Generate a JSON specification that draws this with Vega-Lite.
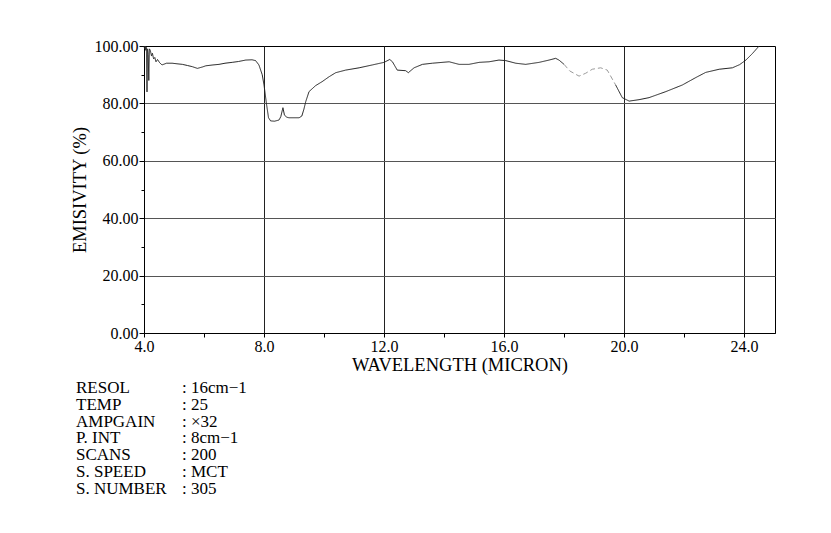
{
  "$schema": "https://vega.github.io/schema/vega-lite/v6.json",
  "padding": {"left": 69, "top": 37, "right": 0, "bottom": 0},
  "background": "white",
  "config": {"font": "Liberation Serif", "view": {"stroke": null}},
  "spacing": 5,
  "vconcat": [
    {
      "width": 631,
      "height": 287,
      "view": {"stroke": "black", "strokeWidth": 1},
      "data": {"values": [
        {"wavelength": 4.00, "emissivity": 100, "part": "a"},
        {"wavelength": 4.02, "emissivity": 99, "part": "a"},
        {"wavelength": 4.04, "emissivity": 100, "part": "a"},
        {"wavelength": 4.06, "emissivity": 98.5, "part": "a"},
        {"wavelength": 4.08, "emissivity": 99.5, "part": "a"},
        {"wavelength": 4.10, "emissivity": 84, "part": "a"},
        {"wavelength": 4.12, "emissivity": 99, "part": "a"},
        {"wavelength": 4.14, "emissivity": 97, "part": "a"},
        {"wavelength": 4.16, "emissivity": 88, "part": "a"},
        {"wavelength": 4.18, "emissivity": 99, "part": "a"},
        {"wavelength": 4.21, "emissivity": 98.5, "part": "a"},
        {"wavelength": 4.25, "emissivity": 96.5, "part": "a"},
        {"wavelength": 4.28, "emissivity": 97.5, "part": "a"},
        {"wavelength": 4.32, "emissivity": 95.5, "part": "a"},
        {"wavelength": 4.36, "emissivity": 96, "part": "a"},
        {"wavelength": 4.40, "emissivity": 94.5, "part": "a"},
        {"wavelength": 4.45, "emissivity": 95.3, "part": "a"},
        {"wavelength": 4.52, "emissivity": 94.2, "part": "a"},
        {"wavelength": 4.60, "emissivity": 93.4, "part": "a"},
        {"wavelength": 4.75, "emissivity": 94, "part": "a"},
        {"wavelength": 4.94, "emissivity": 94, "part": "a"},
        {"wavelength": 5.10, "emissivity": 93.8, "part": "a"},
        {"wavelength": 5.28, "emissivity": 93.6, "part": "a"},
        {"wavelength": 5.45, "emissivity": 93.2, "part": "a"},
        {"wavelength": 5.61, "emissivity": 92.8, "part": "a"},
        {"wavelength": 5.78, "emissivity": 92.2, "part": "a"},
        {"wavelength": 5.95, "emissivity": 92.7, "part": "a"},
        {"wavelength": 6.06, "emissivity": 93.1, "part": "a"},
        {"wavelength": 6.30, "emissivity": 93.4, "part": "a"},
        {"wavelength": 6.50, "emissivity": 93.6, "part": "a"},
        {"wavelength": 6.70, "emissivity": 94, "part": "a"},
        {"wavelength": 6.94, "emissivity": 94.3, "part": "a"},
        {"wavelength": 7.15, "emissivity": 94.6, "part": "a"},
        {"wavelength": 7.39, "emissivity": 95.1, "part": "a"},
        {"wavelength": 7.60, "emissivity": 95.2, "part": "a"},
        {"wavelength": 7.72, "emissivity": 94.9, "part": "a"},
        {"wavelength": 7.83, "emissivity": 93.4, "part": "a"},
        {"wavelength": 7.94, "emissivity": 90, "part": "a"},
        {"wavelength": 8.00, "emissivity": 86.4, "part": "a"},
        {"wavelength": 8.08, "emissivity": 80, "part": "a"},
        {"wavelength": 8.15, "emissivity": 75, "part": "a"},
        {"wavelength": 8.22, "emissivity": 73.9, "part": "a"},
        {"wavelength": 8.35, "emissivity": 73.8, "part": "a"},
        {"wavelength": 8.50, "emissivity": 74.2, "part": "a"},
        {"wavelength": 8.56, "emissivity": 75.4, "part": "a"},
        {"wavelength": 8.63, "emissivity": 78.5, "part": "a"},
        {"wavelength": 8.68, "emissivity": 76, "part": "a"},
        {"wavelength": 8.75, "emissivity": 75.2, "part": "a"},
        {"wavelength": 8.83, "emissivity": 75, "part": "a"},
        {"wavelength": 9.17, "emissivity": 75, "part": "a"},
        {"wavelength": 9.26, "emissivity": 75.6, "part": "a"},
        {"wavelength": 9.33, "emissivity": 78, "part": "a"},
        {"wavelength": 9.39, "emissivity": 80.6, "part": "a"},
        {"wavelength": 9.50, "emissivity": 84.1, "part": "a"},
        {"wavelength": 9.72, "emissivity": 86.2, "part": "a"},
        {"wavelength": 9.94, "emissivity": 87.6, "part": "a"},
        {"wavelength": 10.17, "emissivity": 89.3, "part": "a"},
        {"wavelength": 10.39, "emissivity": 90.7, "part": "a"},
        {"wavelength": 10.72, "emissivity": 91.6, "part": "a"},
        {"wavelength": 11.17, "emissivity": 92.4, "part": "a"},
        {"wavelength": 11.61, "emissivity": 93.4, "part": "a"},
        {"wavelength": 12.00, "emissivity": 94.3, "part": "a"},
        {"wavelength": 12.19, "emissivity": 95.3, "part": "a"},
        {"wavelength": 12.28, "emissivity": 94.5, "part": "a"},
        {"wavelength": 12.44, "emissivity": 91.6, "part": "a"},
        {"wavelength": 12.72, "emissivity": 91.4, "part": "a"},
        {"wavelength": 12.81, "emissivity": 90.7, "part": "a"},
        {"wavelength": 13.00, "emissivity": 92.4, "part": "a"},
        {"wavelength": 13.28, "emissivity": 93.6, "part": "a"},
        {"wavelength": 13.61, "emissivity": 94, "part": "a"},
        {"wavelength": 14.17, "emissivity": 94.5, "part": "a"},
        {"wavelength": 14.50, "emissivity": 93.6, "part": "a"},
        {"wavelength": 14.83, "emissivity": 93.6, "part": "a"},
        {"wavelength": 15.17, "emissivity": 94.3, "part": "a"},
        {"wavelength": 15.50, "emissivity": 94.5, "part": "a"},
        {"wavelength": 15.83, "emissivity": 95.1, "part": "a"},
        {"wavelength": 16.06, "emissivity": 94.9, "part": "a"},
        {"wavelength": 16.39, "emissivity": 94, "part": "a"},
        {"wavelength": 16.72, "emissivity": 93.6, "part": "a"},
        {"wavelength": 17.17, "emissivity": 94.3, "part": "a"},
        {"wavelength": 17.50, "emissivity": 95.1, "part": "a"},
        {"wavelength": 17.72, "emissivity": 95.7, "part": "a"},
        {"wavelength": 17.83, "emissivity": 95.1, "part": "a"},
        {"wavelength": 18.00, "emissivity": 93.6, "part": "a"},
        {"wavelength": 18.00, "emissivity": 93.6, "part": "b"},
        {"wavelength": 18.19, "emissivity": 91.3, "part": "b"},
        {"wavelength": 18.50, "emissivity": 89.5, "part": "b"},
        {"wavelength": 18.72, "emissivity": 90.5, "part": "b"},
        {"wavelength": 18.94, "emissivity": 91.9, "part": "b"},
        {"wavelength": 19.22, "emissivity": 92.4, "part": "b"},
        {"wavelength": 19.44, "emissivity": 91.6, "part": "b"},
        {"wavelength": 19.72, "emissivity": 86.4, "part": "b"},
        {"wavelength": 19.72, "emissivity": 86.4, "part": "c"},
        {"wavelength": 19.94, "emissivity": 82, "part": "c"},
        {"wavelength": 20.17, "emissivity": 80.8, "part": "c"},
        {"wavelength": 20.50, "emissivity": 81.3, "part": "c"},
        {"wavelength": 20.83, "emissivity": 82, "part": "c"},
        {"wavelength": 21.39, "emissivity": 84.1, "part": "c"},
        {"wavelength": 21.94, "emissivity": 86.4, "part": "c"},
        {"wavelength": 22.39, "emissivity": 89, "part": "c"},
        {"wavelength": 22.72, "emissivity": 90.8, "part": "c"},
        {"wavelength": 23.17, "emissivity": 91.9, "part": "c"},
        {"wavelength": 23.61, "emissivity": 92.4, "part": "c"},
        {"wavelength": 23.85, "emissivity": 93.5, "part": "c"},
        {"wavelength": 24.06, "emissivity": 95.1, "part": "c"},
        {"wavelength": 24.28, "emissivity": 97.4, "part": "c"},
        {"wavelength": 24.50, "emissivity": 100, "part": "c"}
      ]},
      "mark": {"type": "line", "strokeWidth": 1},
      "encoding": {
        "x": {
          "field": "wavelength", "type": "quantitative",
          "scale": {"domain": [4, 25.03], "nice": false, "zero": false},
          "axis": {
            "values": [4, 6, 8, 10, 12, 14, 16, 18, 20, 22, 24],
            "format": ".1f",
            "labelExpr": "datum.value % 4 === 0 ? datum.label : ''",
            "grid": true,
            "gridColor": "#222",
            "gridWidth": 1,
            "gridOpacity": {"condition": {"test": "datum.value % 4 === 0 && datum.value > 4", "value": 1}, "value": 0},
            "tickColor": "black",
            "tickSize": 4,
            "domainColor": "black",
            "labelFontSize": 16,
            "labelColor": "black",
            "labelPadding": 1,
            "labelFlush": false,
            "title": "WAVELENGTH (MICRON)",
            "titleFontSize": 18.5,
            "titleFontWeight": "normal",
            "titleColor": "black",
            "titlePadding": 1
          }
        },
        "y": {
          "field": "emissivity", "type": "quantitative",
          "scale": {"domain": [0, 100], "nice": false},
          "axis": {
            "values": [0, 10, 20, 30, 40, 50, 60, 70, 80, 90, 100],
            "format": ".2f",
            "labelExpr": "datum.value % 20 === 0 ? datum.label : ''",
            "grid": true,
            "gridColor": "#555",
            "gridWidth": 1,
            "gridOpacity": {"condition": {"test": "datum.value % 20 === 0 && datum.value > 0 && datum.value < 100", "value": 1}, "value": 0},
            "tickColor": "black",
            "tickSize": {"condition": {"test": "datum.value % 20 === 0", "value": 5}, "value": 3},
            "domainColor": "black",
            "labelFontSize": 16,
            "labelColor": "black",
            "labelPadding": 1,
            "labelFlush": false,
            "title": "EMISIVITY (%)",
            "titleFontSize": 18.5,
            "titleFontWeight": "normal",
            "titleColor": "black",
            "titlePadding": 5
          }
        },
        "detail": {"field": "part"},
        "color": {"field": "part", "type": "nominal", "scale": {"domain": ["a", "b", "c"], "range": ["#222222", "#9a9a9a", "#222222"]}, "legend": null},
        "strokeDash": {"field": "part", "type": "nominal", "scale": {"domain": ["a", "b", "c"], "range": [[1, 0], [5, 3], [1, 0]]}, "legend": null}
      }
    },
    {
      "width": 631,
      "height": {"step": 16.7},
      "data": {"values": [
        {"row": 1, "item": "RESOL", "setting": ": 16cm−1"},
        {"row": 2, "item": "TEMP", "setting": ": 25"},
        {"row": 3, "item": "AMPGAIN", "setting": ": ×32"},
        {"row": 4, "item": "P. INT", "setting": ": 8cm−1"},
        {"row": 5, "item": "SCANS", "setting": ": 200"},
        {"row": 6, "item": "S. SPEED", "setting": ": MCT"},
        {"row": 7, "item": "S. NUMBER", "setting": ": 305"}
      ]},
      "transform": [{"fold": ["item", "setting"], "as": ["column", "text"]}],
      "mark": {"type": "text", "align": "left", "baseline": "middle", "fontSize": 17, "font": "Liberation Serif", "color": "black"},
      "encoding": {
        "y": {"field": "row", "type": "ordinal", "axis": null},
        "x": {"field": "column", "type": "nominal", "scale": {"domain": ["item", "setting"], "range": [-68, 38], "padding": 0}, "axis": null},
        "text": {"field": "text"}
      }
    }
  ]
}
